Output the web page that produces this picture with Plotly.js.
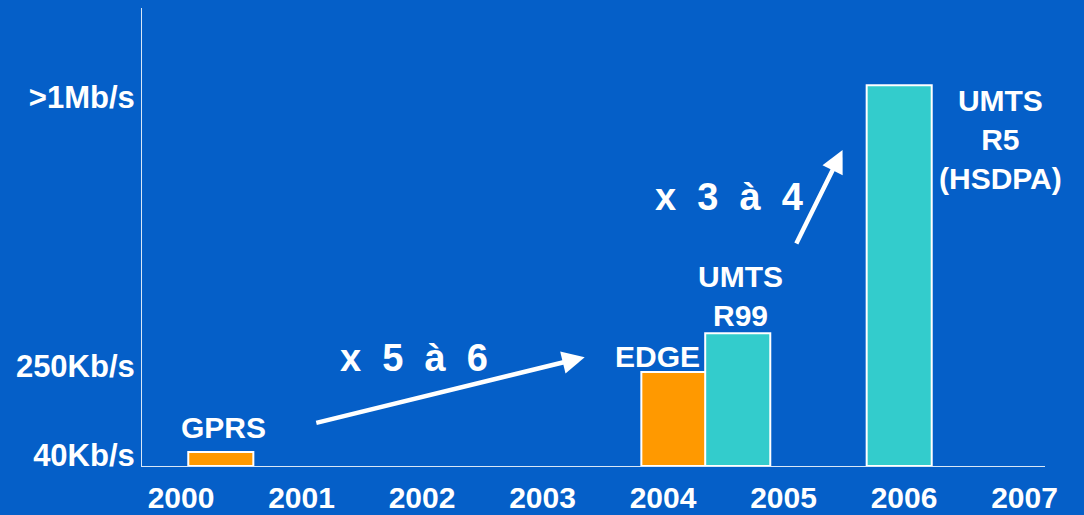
<!DOCTYPE html>
<html>
<head>
<meta charset="utf-8">
<script src="https://cdn.plot.ly/plotly-3.0.1.min.js"></script>
<style>html,body{margin:0;padding:0;background:#055FC8;}#chart{width:1084px;height:515px;}</style>
</head>
<body>
<div id="chart"></div>
<script>
// Data
const technologies = ['GPRS', 'EDGE', 'UMTS R99', 'UMTS R5 (HSDPA)'];
const launchYear = [2000.33, 2004.09, 2004.62, 2005.96];
const throughputKbps = [38, 255, 360, 1032];
const barColors = ['#FF9900', '#FF9900', '#33CCCC', '#33CCCC'];
const years = [2000, 2001, 2002, 2003, 2004, 2005, 2006, 2007];
const yearLabels = ['2000', '2001', '2002', '2003', '2004', '2005', '2006', '2007'];
const rateTickVals = [30, 271, 1000];
const rateTickText = ['40Kb/s', '250Kb/s', '>1Mb/s'];
const barLabels = ['GPRS', 'EDGE', 'UMTS<br>R99', 'UMTS<br>R5<br>(HSDPA)'];
const gains = ['x\u00a0\u00a05\u00a0\u00a0à\u00a0\u00a06', 'x\u00a0\u00a03\u00a0\u00a0à\u00a0\u00a04'];

const FONT = 'Liberation Sans, Arial, sans-serif';
const white = '#FFFFFF';

const trace = {
  type: 'bar',
  x: launchYear,
  y: throughputKbps,
  width: 0.54,
  marker: {color: barColors, line: {color: white, width: 2}},
  hoverinfo: 'skip'
};

const labelPos = [[2000.35, 103], [2003.95, 298], [2004.64, 461], [2006.80, 886]];
const annotations = barLabels.map((t, i) => ({
  x: labelPos[i][0], y: labelPos[i][1], xref: 'x', yref: 'y',
  text: '<b>' + t + '</b>', showarrow: false, xanchor: 'center', yanchor: 'middle',
  font: {family: FONT, size: 30, color: white}
}));
annotations.push({x: 2001.93, y: 293, xref: 'x', yref: 'y', text: '<b>' + gains[0] + '</b>', showarrow: false,
  font: {family: FONT, size: 38, color: white}});
annotations.push({x: 2004.55, y: 729, xref: 'x', yref: 'y', text: '<b>' + gains[1] + '</b>', showarrow: false,
  font: {family: FONT, size: 38, color: white}});
// arrows
annotations.push({x: 2003.35, y: 295, ax: 2001.11, ay: 116, xref: 'x', yref: 'y', axref: 'x', ayref: 'y',
  text: '', showarrow: true, arrowhead: 2, arrowsize: 1, arrowwidth: 4.5, arrowcolor: white});
annotations.push({x: 2005.49, y: 856, ax: 2005.10, ay: 599, xref: 'x', yref: 'y', axref: 'x', ayref: 'y',
  text: '', showarrow: true, arrowhead: 2, arrowsize: 1, arrowwidth: 4.5, arrowcolor: white});

const layout = {
  width: 1084, height: 515,
  paper_bgcolor: '#055FC8', plot_bgcolor: '#055FC8',
  margin: {l: 142, r: 39, t: 8, b: 49},
  showlegend: false,
  bargap: 0,
  xaxis: {
    range: [1999.676, 2007.17],
    tickvals: years, ticktext: yearLabels,
    showgrid: false, zeroline: false,
    showline: true, linecolor: 'rgba(255,255,255,0.85)', linewidth: 1,
    ticks: 'outside', ticklen: 5, tickcolor: 'rgba(0,0,0,0)',
    tickfont: {family: FONT, size: 30, color: white, weight: 'bold'},
    fixedrange: true
  },
  yaxis: {
    range: [0, 1241],
    tickvals: rateTickVals, ticktext: rateTickText,
    showgrid: false, zeroline: false,
    showline: true, linecolor: 'rgba(255,255,255,0.85)', linewidth: 1,
    ticks: '',
    tickfont: {family: FONT, size: 31, color: white, weight: 'bold'},
    fixedrange: true
  },
  annotations: annotations
};

Plotly.newPlot('chart', [trace], layout, {displayModeBar: false, staticPlot: true});
</script>
</body>
</html>
